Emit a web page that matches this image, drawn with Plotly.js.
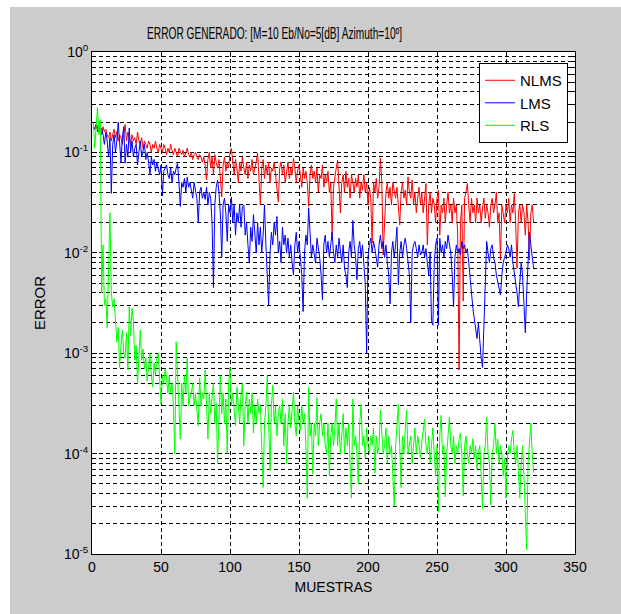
<!DOCTYPE html>
<html>
<head>
<meta charset="utf-8">
<script src="https://cdn.plot.ly/plotly-3.0.1.min.js"></script>
<style>
html,body{margin:0;padding:0;background:#ffffff;width:621px;height:614px;overflow:hidden;}
#chart{position:absolute;left:10px;top:7px;width:611px;height:607px;}
</style>
</head>
<body>
<div id="chart"></div>
<script>
const chartTitle = 'ERROR GENERADO: [M=10 Eb/No=5[dB] Azimuth=10º]';
const xLabel = 'MUESTRAS';
const yLabel = 'ERROR';
const seriesNames = ['NLMS', 'LMS', 'RLS'];
const seriesColors = ['#ff0000', '#0000ff', '#00ff00'];
const yTickVals = [1e-5, 1e-4, 1e-3, 1e-2, 1e-1, 1];
const yTickText = ['10<sup>-5</sup>', '10<sup>-4</sup>', '10<sup>-3</sup>', '10<sup>-2</sup>', '10<sup>-1</sup>', '10<sup>0</sup>'];

const nlms = [
0.18,0.17,0.19,0.16,0.18,0.17,0.15,0.18,0.16,0.17,
0.15,0.14,0.16,0.13,0.15,0.17,0.14,0.16,0.13,0.15,
0.14,0.12,0.15,0.19,0.13,0.16,0.14,0.12,0.15,0.13,
0.14,0.12,0.16,0.13,0.12,0.14,0.11,0.13,0.12,0.11,
0.13,0.12,0.10,0.12,0.11,0.13,0.11,0.10,0.12,0.11,
0.10,0.12,0.11,0.095,0.11,0.10,0.12,0.105,0.095,0.11,
0.10,0.09,0.11,0.10,0.095,0.105,0.09,0.10,0.11,0.095,
0.09,0.10,0.085,0.095,0.10,0.09,0.085,0.095,0.09,0.08,
0.09,0.075,0.053,0.085,0.10,0.07,0.09,0.06,0.095,0.08,
0.07,0.085,0.06,0.036,0.075,0.09,0.065,0.08,0.07,0.10,
0.11,0.075,0.06,0.085,0.07,0.05,0.08,0.065,0.09,0.07,
0.06,0.08,0.055,0.075,0.065,0.085,0.06,0.07,0.08,0.099,
0.06,0.03,0.07,0.085,0.055,0.075,0.06,0.08,0.05,0.07,
0.065,0.08,0.06,0.045,0.032,0.07,0.08,0.06,0.075,0.05,
0.065,0.08,0.055,0.07,0.06,0.088,0.07,0.05,0.065,0.075,
0.06,0.045,0.07,0.055,0.065,0.05,0.029,0.06,0.075,0.055,
0.065,0.05,0.07,0.04,0.06,0.055,0.075,0.045,0.06,0.05,
0.065,0.04,0.05,0.015,0.045,0.06,0.07,0.084,0.05,0.025,
0.05,0.06,0.04,0.065,0.045,0.055,0.035,0.06,0.05,0.04,
0.055,0.045,0.06,0.035,0.05,0.042,0.06,0.04,0.05,0.03,
0.045,0.035,0.0125,0.05,0.04,0.055,0.035,0.045,0.088,0.05,
0.0095,0.018,0.04,0.05,0.035,0.045,0.03,0.05,0.04,0.035,
0.045,0.03,0.019,0.04,0.05,0.035,0.042,0.03,0.057,0.04,
0.035,0.053,0.03,0.04,0.025,0.035,0.045,0.03,0.04,0.025,
0.035,0.049,0.012,0.03,0.04,0.025,0.035,0.03,0.02,0.035,
0.042,0.015,0.03,0.025,0.035,0.02,0.03,0.04,0.025,0.03,
0.02,0.035,0.025,0.03,0.015,0.00068,0.02,0.03,0.0033,0.035,
0.04,0.049,0.03,0.02,0.035,0.025,0.03,0.02,0.035,0.025,
0.03,0.02,0.028,0.035,0.022,0.03,0.025,0.018,0.03,0.035,
0.025,0.03,0.04,0.02,0.025,0.0085,0.03,0.025,0.02,0.03,
0.025,0.035,0.02,0.03,0.025,0.039,0.02,0.007,0.025,0.03,
0.02,0.03,0.025,0.015,0.03,0.02,0.0085,0.025,0.03,0.02
];

const lms = [
0.18,0.17,0.19,0.18,0.16,0.18,0.17,0.15,0.12,0.16,
0.13,0.09,0.14,0.039,0.12,0.15,0.10,0.13,0.20,0.11,
0.08,0.14,0.18,0.078,0.12,0.09,0.175,0.10,0.13,0.09,
0.11,0.12,0.075,0.10,0.13,0.09,0.105,0.12,0.085,0.10,
0.08,0.06,0.09,0.075,0.085,0.065,0.08,0.07,0.06,0.075,
0.037,0.065,0.07,0.075,0.06,0.055,0.07,0.05,0.065,0.06,
0.07,0.078,0.05,0.029,0.05,0.045,0.055,0.04,0.057,0.045,
0.05,0.04,0.035,0.05,0.042,0.035,0.02,0.04,0.045,0.035,
0.04,0.034,0.045,0.03,0.04,0.035,0.02,0.0045,0.03,0.045,
0.053,0.04,0.025,0.009,0.03,0.035,0.025,0.013,0.03,0.025,
0.036,0.02,0.03,0.015,0.025,0.02,0.03,0.018,0.029,0.03,
0.015,0.02,0.012,0.0079,0.018,0.013,0.024,0.015,0.01,0.02,
0.012,0.018,0.01,0.015,0.03,0.012,0.006,0.003,0.01,0.016,
0.012,0.02,0.015,0.023,0.01,0.013,0.008,0.018,0.012,0.015,
0.01,0.014,0.009,0.012,0.008,0.006,0.012,0.016,0.01,0.013,
0.009,0.006,0.0026,0.01,0.015,0.012,0.028,0.013,0.009,0.012,
0.01,0.0079,0.014,0.011,0.009,0.006,0.0034,0.012,0.015,0.01,
0.013,0.009,0.012,0.016,0.01,0.008,0.012,0.009,0.014,0.011,
0.008,0.012,0.007,0.006,0.0045,0.01,0.013,0.009,0.021,0.012,
0.009,0.0054,0.011,0.013,0.009,0.012,0.008,0.005,0.001,0.009,
0.012,0.014,0.01,0.013,0.011,0.009,0.0072,0.012,0.015,0.011,
0.013,0.009,0.012,0.008,0.006,0.0031,0.01,0.013,0.009,0.012,
0.018,0.0048,0.01,0.013,0.009,0.012,0.014,0.011,0.008,0.006,
0.002,0.01,0.012,0.013,0.011,0.009,0.012,0.0095,0.01,0.012,
0.009,0.011,0.0079,0.006,0.01,0.0021,0.0019,0.008,0.012,0.014,
0.0019,0.014,0.01,0.012,0.009,0.013,0.011,0.015,0.012,0.01,
0.006,0.0029,0.009,0.012,0.01,0.011,0.0095,0.013,0.011,0.012,
0.01,0.011,0.008,0.006,0.004,0.0028,0.0022,0.0017,0.0014,0.002,
0.0012,0.0009,0.00072,0.002,0.006,0.013,0.01,0.008,0.011,0.012,
0.009,0.008,0.006,0.005,0.0045,0.0038,0.006,0.008,0.009,0.01,
0.012,0.011,0.009,0.012,0.008,0.006,0.005,0.004,0.0029,0.005,
0.008,0.006,0.003,0.0016,0.004,0.008,0.016,0.012,0.009,0.007
];

const rls = [
0.2,0.11,0.18,0.28,0.15,0.21,0.004,0.012,0.003,0.0035,
0.0018,0.006,0.025,0.004,0.0029,0.0035,0.002,0.0013,0.0018,0.00072,
0.0012,0.0017,0.001,0.0009,0.0016,0.00068,0.0029,0.0015,0.0028,0.0021,
0.00085,0.0012,0.0005,0.0009,0.0017,0.00085,0.0011,0.0007,0.0009,0.00053,
0.0008,0.001,0.0006,0.00046,0.0008,0.0006,0.0009,0.001,0.00058,0.00031,
0.0006,0.0005,0.0007,0.00057,0.0004,0.0006,0.0004,0.0005,0.0003,0.0001,
0.0013,0.0006,0.0004,0.00014,0.0005,0.0003,0.0006,0.0004,0.0009,0.0003,
0.00036,0.0004,0.0005,0.0003,0.0004,0.00025,0.00019,0.00057,0.0003,0.0004,
0.00035,0.00068,0.0003,0.00014,0.0004,0.00025,0.00036,0.0005,0.0002,0.00032,
0.00008,0.0003,0.0006,0.00025,0.0004,0.0002,0.00035,0.0001,0.0005,0.00072,
0.0003,0.0004,0.00025,0.00019,0.00046,0.0003,0.0002,0.0004,0.0005,0.00012,
0.0003,0.00041,0.0002,0.00035,0.00025,0.0004,0.00016,0.0003,0.0002,0.00035,
0.00025,0.0003,0.00012,0.000046,0.0002,0.0003,0.0006,0.00025,0.000068,0.0003,
0.00048,0.0002,0.0003,0.00015,0.00025,0.0003,0.0002,0.00035,0.00012,0.00025,
0.00008,0.0002,0.0003,0.00018,0.00025,0.00041,0.0002,0.00015,0.0003,0.0002,
0.00017,0.0003,0.0002,0.00025,0.00012,0.000036,0.00046,0.00015,0.0002,0.000063,
0.0002,0.00015,0.00036,0.00012,0.0002,0.00025,0.00015,0.0002,0.00012,0.0001,
0.0002,0.00006,0.00015,0.0002,0.00012,0.00018,0.00035,0.00012,0.0002,0.0001,
0.00015,0.00025,0.0001,0.00018,0.00012,0.0002,0.00008,0.000036,0.00035,0.00012,
0.00015,0.0001,0.00005,0.0002,0.00031,0.00012,0.00015,0.00009,0.00018,0.00012,
0.0001,0.00015,0.00012,0.00018,0.000064,0.00015,0.0001,0.00012,0.00027,0.00015,
0.0001,0.00012,0.00018,0.00008,0.00015,0.0001,0.00012,0.00006,0.00003,0.00012,
0.0002,0.00031,0.00012,0.000046,0.00015,0.0001,0.00018,0.00027,0.0001,0.00012,
0.00015,0.00008,0.00012,0.00018,0.0001,0.00015,0.00012,0.00009,0.00013,0.00016,
0.00022,0.00012,0.0001,0.00015,0.00008,0.00012,0.00018,0.0001,0.00006,0.00012,
0.000026,0.00015,0.00024,0.0001,0.00012,0.000037,0.0001,0.00015,0.00023,0.00012,
0.0001,0.00015,0.00008,0.00012,0.0001,0.00014,0.00016,0.0001,0.000038,0.00012,
0.00015,0.0001,0.00008,0.00012,0.0001,0.00014,0.00009,0.00012,0.00007,0.0001,
0.00012,0.00006,0.000028,0.0001,0.00012,0.00023,0.0001,0.00008,0.000031,0.0001,
0.00012,0.0002,0.0001,0.00014,0.00008,0.00012,0.0001,0.00006,0.00009,0.000036,
0.00009,0.00012,0.0001,0.00014,0.00017,0.0001,0.00008,0.00012,0.00007,0.000036,
0.00008,0.00012,0.00006,0.000022,0.000011,0.00008,0.00012,0.0002,0.0001,0.000065
];

const samples = nlms.map((_, i) => i + 1);
const allSeries = [nlms, lms, rls];

const FONT = '"Liberation Sans", Arial, sans-serif';
const DASH = '4px,3px';

const traces = allSeries.map((ys, k) => ({
  x: samples,
  y: ys,
  type: 'scatter',
  mode: 'lines',
  name: seriesNames[k],
  line: {color: seriesColors[k], width: 1}
}));

const layout = {
  width: 611,
  height: 607,
  paper_bgcolor: '#cccccc',
  plot_bgcolor: '#ffffff',
  margin: {l: 82, r: 46, t: 45, b: 60},
  font: {family: FONT, size: 14, color: '#000000'},
  title: {
    text: chartTitle,
    font: {family: FONT, size: 16, color: '#000000'},
    xref: 'container', x: 0.433, xanchor: 'center',
    yref: 'container', y: 0.957, yanchor: 'middle'
  },
  showlegend: true,
  legend: {
    x: 0.9855, xanchor: 'right',
    y: 0.978, yanchor: 'top',
    bgcolor: '#ffffff',
    bordercolor: '#000000',
    borderwidth: 1,
    font: {family: FONT, size: 15, color: '#000000'},
    itemwidth: 30
  },
  xaxis: {
    range: [0, 350],
    dtick: 50,
    tick0: 0,
    ticks: 'inside',
    ticklen: 5,
    tickcolor: '#000000',
    showline: true,
    linecolor: '#000000',
    linewidth: 1,
    mirror: 'ticks',
    showgrid: true,
    gridcolor: '#000000',
    gridwidth: 1,
    griddash: DASH,
    zeroline: false,
    tickfont: {family: FONT, size: 14, color: '#000000'},
    title: {text: xLabel, font: {family: FONT, size: 14, color: '#000000'}, standoff: 8}
  },
  yaxis: {
    type: 'log',
    range: [-5, 0],
    tickvals: yTickVals,
    ticktext: yTickText,
    ticks: 'inside',
    ticklen: 5,
    tickcolor: '#000000',
    showline: true,
    linecolor: '#000000',
    linewidth: 1,
    mirror: 'ticks',
    showgrid: true,
    gridcolor: '#000000',
    gridwidth: 1,
    griddash: DASH,
    zeroline: false,
    minor: {
      dtick: 'D1',
      ticks: 'inside',
      ticklen: 3,
      tickcolor: '#000000',
      showgrid: true,
      gridcolor: '#000000',
      gridwidth: 1,
      griddash: DASH
    },
    tickfont: {family: FONT, size: 14, color: '#000000'},
    title: {text: yLabel, font: {family: FONT, size: 15, color: '#000000'}, standoff: 14}
  }
};

Plotly.newPlot('chart', traces, layout, {displayModeBar: false, staticPlot: true}).then(function (gd) {
  // The reference title uses a condensed face; compress the title glyphs to its width.
  const t = gd.querySelector('.gtitle');
  if (t) {
    t.setAttribute('textLength', '255');
    t.setAttribute('lengthAdjust', 'spacingAndGlyphs');
  }
});
</script>
</body>
</html>
